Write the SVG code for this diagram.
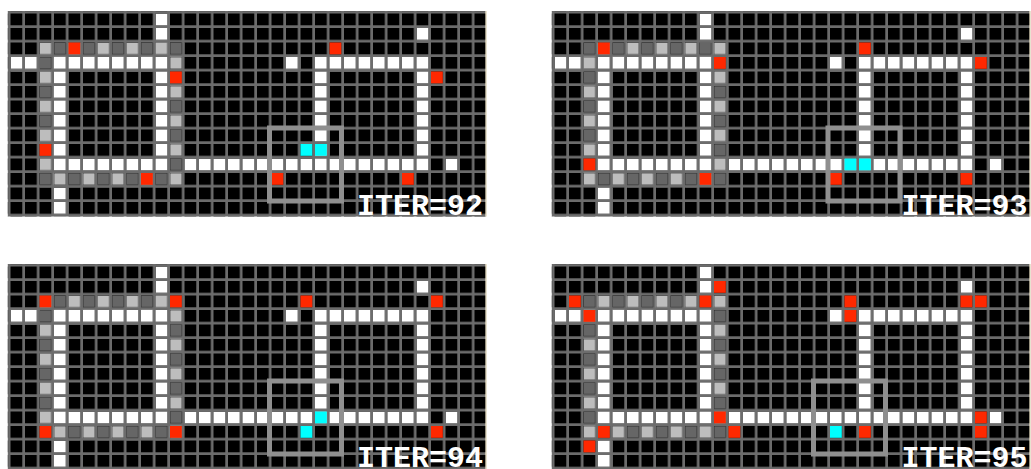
<svg xmlns="http://www.w3.org/2000/svg" xmlns:xlink="http://www.w3.org/1999/xlink" width="1031" height="469" viewBox="0 0 1031 469">
<style>
.r{fill:#ff2800}
.c{fill:#00ffff}
.box{fill:none;stroke:#8f8f8f;stroke-width:5}
.t{font-family:"Liberation Mono","DejaVu Sans Mono",monospace;font-weight:bold;font-size:30px;fill:#ffffff;text-anchor:end}
.w{fill:url(#pw)}
.ra{fill:url(#pa)}
.rb{fill:url(#pb)}
</style>
<defs>
<pattern id="pk" patternUnits="userSpaceOnUse" width="14.5" height="14.5"><rect width="11.8" height="11.8" fill="#000"/></pattern>
<pattern id="pw" patternUnits="userSpaceOnUse" width="14.5" height="14.5"><rect width="11.8" height="11.8" fill="#fff"/></pattern>
<pattern id="pa" patternUnits="userSpaceOnUse" width="29" height="29"><rect width="11.8" height="11.8" fill="#bdbdbd"/><rect x="14.5" y="14.5" width="11.8" height="11.8" fill="#bdbdbd"/><rect x="14.5" y="0" width="11.8" height="11.8" fill="#666"/><rect x="0" y="14.5" width="11.8" height="11.8" fill="#666"/></pattern>
<pattern id="pb" patternUnits="userSpaceOnUse" width="29" height="29"><rect width="11.8" height="11.8" fill="#666"/><rect x="14.5" y="14.5" width="11.8" height="11.8" fill="#666"/><rect x="14.5" y="0" width="11.8" height="11.8" fill="#bdbdbd"/><rect x="0" y="14.5" width="11.8" height="11.8" fill="#bdbdbd"/></pattern>
<g id="base">
<rect x="-2.7" y="-2.5" width="477.7" height="205.5" fill="#6c6c6c"/>
<rect x="-2.7" y="-2.5" width="477.7" height="205.5" fill="url(#pk)"/>
<rect class="w" x="0" y="43.5" width="29" height="14.5"/>
<rect class="w" x="43.5" y="43.5" width="116" height="14.5"/>
<rect class="w" x="275.5" y="43.5" width="14.5" height="14.5"/>
<rect class="w" x="304.5" y="43.5" width="116" height="14.5"/>
<rect class="w" x="145" y="0" width="14.5" height="29"/>
<rect class="w" x="145" y="58" width="14.5" height="87"/>
<rect class="w" x="43.5" y="58" width="14.5" height="87"/>
<rect class="w" x="43.5" y="174" width="14.5" height="29"/>
<rect class="w" x="43.5" y="145" width="116" height="14.5"/>
<rect class="w" x="174" y="145" width="246.5" height="14.5"/>
<rect class="w" x="435" y="145" width="14.5" height="14.5"/>
<rect class="w" x="304.5" y="58" width="14.5" height="87"/>
<rect class="w" x="406" y="14.5" width="14.5" height="14.5"/>
<rect class="w" x="406" y="58" width="14.5" height="87"/>
<rect x="475" y="-2.5" width="1" height="205.5" fill="#d2c6a2"/>
</g>
</defs>

<g id="iter92" transform="translate(10.5,13.5)">
<use xlink:href="#base" href="#base"/>
<rect class="ra" x="29" y="29" width="145" height="14.5"/>
<rect class="ra" x="29" y="159.5" width="145" height="14.5"/>
<rect class="ra" x="29" y="43.5" width="14.5" height="116"/>
<rect class="ra" x="159.5" y="43.5" width="14.5" height="116"/>
<rect class="r" x="58" y="29" width="11.8" height="11.8"/>
<rect class="r" x="159.5" y="58" width="11.8" height="11.8"/>
<rect class="r" x="29" y="130.5" width="11.8" height="11.8"/>
<rect class="r" x="130.5" y="159.5" width="11.8" height="11.8"/>
<rect class="r" x="319" y="29" width="11.8" height="11.8"/>
<rect class="r" x="420.5" y="58" width="11.8" height="11.8"/>
<rect class="r" x="261" y="159.5" width="11.8" height="11.8"/>
<rect class="r" x="391.5" y="159.5" width="11.8" height="11.8"/>
<rect class="c" x="290" y="130.5" width="11.8" height="11.8"/>
<rect class="c" x="304.5" y="130.5" width="11.8" height="11.8"/>
<rect class="box" x="259" y="114.5" width="72" height="73"/>
<text class="t" x="472.5" y="201">ITER=92</text>
</g>

<g id="iter93" transform="translate(554.5,13.5)">
<use xlink:href="#base" href="#base"/>
<rect class="rb" x="29" y="29" width="145" height="14.5"/>
<rect class="rb" x="29" y="159.5" width="145" height="14.5"/>
<rect class="rb" x="29" y="43.5" width="14.5" height="116"/>
<rect class="rb" x="159.5" y="43.5" width="14.5" height="116"/>
<rect class="r" x="43.5" y="29" width="11.8" height="11.8"/>
<rect class="r" x="159.5" y="43.5" width="11.8" height="11.8"/>
<rect class="r" x="29" y="145" width="11.8" height="11.8"/>
<rect class="r" x="145" y="159.5" width="11.8" height="11.8"/>
<rect class="r" x="304.5" y="29" width="11.8" height="11.8"/>
<rect class="r" x="420.5" y="43.5" width="11.8" height="11.8"/>
<rect class="r" x="275.5" y="159.5" width="11.8" height="11.8"/>
<rect class="r" x="406" y="159.5" width="11.8" height="11.8"/>
<rect class="c" x="290" y="145" width="11.8" height="11.8"/>
<rect class="c" x="304.5" y="145" width="11.8" height="11.8"/>
<rect class="box" x="273.5" y="114.5" width="72" height="73"/>
<text class="t" x="473" y="201">ITER=93</text>
</g>

<g id="iter94" transform="translate(10.5,266.5)">
<use xlink:href="#base" href="#base"/>
<rect class="ra" x="29" y="29" width="145" height="14.5"/>
<rect class="ra" x="29" y="159.5" width="145" height="14.5"/>
<rect class="ra" x="29" y="43.5" width="14.5" height="116"/>
<rect class="ra" x="159.5" y="43.5" width="14.5" height="116"/>
<rect class="r" x="29" y="29" width="11.8" height="11.8"/>
<rect class="r" x="159.5" y="29" width="11.8" height="11.8"/>
<rect class="r" x="29" y="159.5" width="11.8" height="11.8"/>
<rect class="r" x="159.5" y="159.5" width="11.8" height="11.8"/>
<rect class="r" x="290" y="29" width="11.8" height="11.8"/>
<rect class="r" x="420.5" y="29" width="11.8" height="11.8"/>
<rect class="r" x="420.5" y="159.5" width="11.8" height="11.8"/>
<rect class="c" x="304.5" y="145" width="11.8" height="11.8"/>
<rect class="c" x="290" y="159.5" width="11.8" height="11.8"/>
<rect class="box" x="259" y="114.5" width="72" height="73"/>
<text class="t" x="472.5" y="200">ITER=94</text>
</g>

<g id="iter95" transform="translate(554.5,266.5)">
<use xlink:href="#base" href="#base"/>
<rect class="rb" x="29" y="29" width="145" height="14.5"/>
<rect class="rb" x="29" y="159.5" width="145" height="14.5"/>
<rect class="rb" x="29" y="43.5" width="14.5" height="116"/>
<rect class="rb" x="159.5" y="43.5" width="14.5" height="116"/>
<rect class="r" x="159.5" y="14.5" width="11.8" height="11.8"/>
<rect class="r" x="14.5" y="29" width="11.8" height="11.8"/>
<rect class="r" x="145" y="29" width="11.8" height="11.8"/>
<rect class="r" x="29" y="43.5" width="11.8" height="11.8"/>
<rect class="r" x="159.5" y="145" width="11.8" height="11.8"/>
<rect class="r" x="43.5" y="159.5" width="11.8" height="11.8"/>
<rect class="r" x="174" y="159.5" width="11.8" height="11.8"/>
<rect class="r" x="29" y="174" width="11.8" height="11.8"/>
<rect class="r" x="290" y="29" width="11.8" height="11.8"/>
<rect class="r" x="406" y="29" width="11.8" height="11.8"/>
<rect class="r" x="420.5" y="29" width="11.8" height="11.8"/>
<rect class="r" x="290" y="43.5" width="11.8" height="11.8"/>
<rect class="r" x="420.5" y="145" width="11.8" height="11.8"/>
<rect class="r" x="304.5" y="159.5" width="11.8" height="11.8"/>
<rect class="r" x="420.5" y="159.5" width="11.8" height="11.8"/>
<rect class="c" x="275.5" y="159.5" width="11.8" height="11.8"/>
<rect class="box" x="259" y="114.5" width="72" height="73"/>
<text class="t" x="473" y="200">ITER=95</text>
</g>
</svg>
